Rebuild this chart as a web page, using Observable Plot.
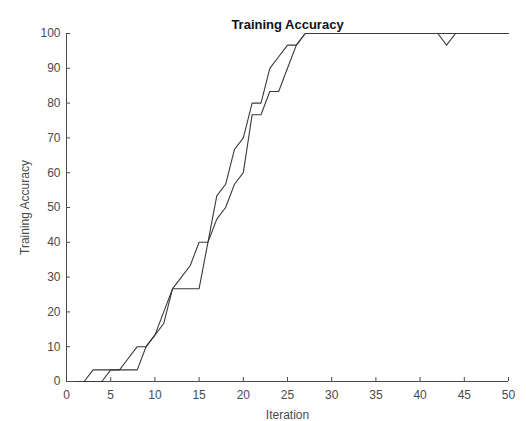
<!DOCTYPE html>
<html>
<head>
<meta charset="utf-8">
<script src="https://cdn.jsdelivr.net/npm/d3@7"></script>
<script src="https://cdn.jsdelivr.net/npm/@observablehq/plot@0.6"></script>
<style>
  html, body { margin: 0; padding: 0; background: #fff; }
  #chart svg { display: block; }
</style>
</head>
<body>
<div id="chart"></div>
<script>
const titleText = "Training Accuracy";
const xLabel = "Iteration";
const yLabel = "Training Accuracy";

const iterations = [1,2,3,4,5,6,7,8,9,10,11,12,13,14,15,16,17,18,19,20,21,22,23,24,25,
  26,27,28,29,30,31,32,33,34,35,36,37,38,39,40,41,42,43,44,45,46,47,48,49,50];

const accuracyA = [0,0,3.33,3.33,3.33,3.33,6.67,10,10,13.33,20,26.67,30,33.33,40,
  40,53.33,56.67,66.67,70,80,80,90,93.33,96.67,96.67,
  100,100,100,100,100,100,100,100,100,100,100,100,100,100,100,100,100,100,100,100,100,100,100,100];

const accuracyB = [0,0,0,0,3.33,3.33,3.33,3.33,10,13.33,16.67,26.67,26.67,26.67,26.67,
  40,46.67,50,56.67,60,76.67,76.67,83.33,83.33,90,96.67,
  100,100,100,100,100,100,100,100,100,100,100,100,100,100,100,100,96.67,100,100,100,100,100,100,100];

const xTicks = [0,5,10,15,20,25,30,35,40,45,50];
const yTicks = [0,10,20,30,40,50,60,70,80,90,100];

const rows = [];
iterations.forEach((it, i) => {
  rows.push({iter: it, acc: accuracyA[i], run: "A"});
  rows.push({iter: it, acc: accuracyB[i], run: "B"});
});

const W = 526, H = 421;
const mL = 66, mR = 18, mT = 33, mB = 40;
const axisColor = "#4a4a4a";

const chart = Plot.plot({
  width: W,
  height: H,
  marginLeft: mL,
  marginRight: mR,
  marginTop: mT,
  marginBottom: mB,
  style: {fontFamily: "'Liberation Sans', Arial, sans-serif", fontSize: "11px", color: axisColor, background: "#fff"},
  x: {domain: [0, 50]},
  y: {domain: [0, 100]},
  marks: [
    Plot.axisX({ticks: xTicks, tickSize: 0, tickPadding: 9, label: xLabel, labelAnchor: "center", labelArrow: "none", labelOffset: 37, fontSize: 12}),
    Plot.axisY({ticks: yTicks, tickSize: 0, tickPadding: 6, label: yLabel, labelAnchor: "center", labelArrow: "none", labelOffset: 46, fontSize: 12}),
    Plot.ruleX(xTicks, {x: d => d, insetTop: H - mT - mB - 4, stroke: axisColor, strokeWidth: 1}),
    Plot.ruleY(yTicks, {y: d => d, insetRight: W - mL - mR - 4, stroke: axisColor, strokeWidth: 1}),
    Plot.ruleX([0], {stroke: axisColor, strokeWidth: 1}),
    Plot.ruleY([0], {stroke: axisColor, strokeWidth: 1}),
    Plot.line(rows, {x: "iter", y: "acc", z: "run", stroke: "#3a3a3a", strokeWidth: 1.1}),
    Plot.text([titleText], {frameAnchor: "top", dy: -14, text: d => d, fontWeight: "bold", fontSize: 13, fill: "#111"})
  ]
});
document.getElementById("chart").appendChild(chart);
</script>
</body>
</html>
